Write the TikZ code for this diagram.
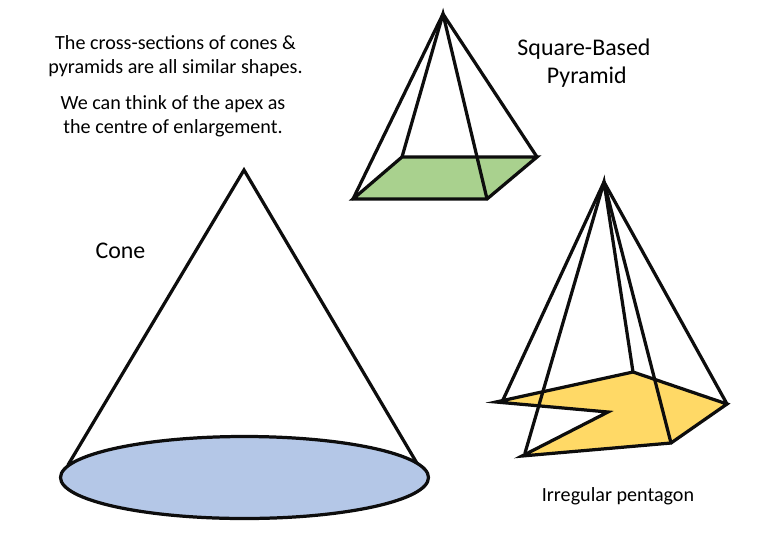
\documentclass[tikz,border=0pt]{standalone}
\usepackage{fontspec}
\setmainfont{Carlito}
\tikzset{
  edge line/.style={line width=2.3pt, line cap=round, line join=miter, black!95},
  small label/.style={align=center, font=\fontsize{14.3}{17}\selectfont, inner sep=0pt},
  large label/.style={align=center, font=\fontsize{17}{19.9}\selectfont, inner sep=0pt}
}
\definecolor{conefill}{HTML}{B4C7E7}
\definecolor{squarefill}{HTML}{A9D18E}
\definecolor{pentafill}{HTML}{FFD966}
\begin{document}
\begin{tikzpicture}[x=0.025cm, y=-0.025cm]
  \useasboundingbox (0,0) rectangle (780,540);

  % Drawing text
  \node [small label] (intro) at (175.5,56) {The cross-sections of cones \&\\pyramids are all similar shapes.};
  \node [small label] (apexnote) at (173,116) {We can think of the apex as\\the centre of enlargement.};
  \node [large label] (squarename) at (584,63) {Square-Based\\\hspace*{4pt}Pyramid};
  \node [large label] (conename) at (120.5,250.5) {Cone};
  \node [small label] (pentaname) at (618,496) {Irregular pentagon};

  % Drawing cone
  \coordinate (coneapex) at (244,170);
  \coordinate (coneleft) at (68,465);
  \coordinate (coneright) at (418,465);
  \draw [edge line] (coneleft) -- (coneapex) -- (coneright);
  \draw [edge line, fill=conefill] (244.5,477.5) ellipse (184 and 41);

  % Drawing square based pyramid
  \coordinate (sqapex) at (443,14);
  \coordinate (sqa) at (353,199);
  \coordinate (sqb) at (487,199);
  \coordinate (sqc) at (537,157);
  \coordinate (sqd) at (402,157);
  \draw [edge line, fill=squarefill] (sqa) -- (sqb) -- (sqc) -- (sqd) -- cycle;
  \draw [edge line] (sqa) -- (sqapex) -- (sqc);
  \draw [edge line] (sqd) -- (sqapex) -- (sqb);

  % Drawing pentagon based pyramid
  \coordinate (penapex) at (604,182);
  \coordinate (pena) at (496,402);
  \coordinate (penb) at (633,372);
  \coordinate (penc) at (727,404);
  \coordinate (pend) at (671,443);
  \coordinate (pene) at (522,456);
  \coordinate (penf) at (608,412);
  \draw [edge line, fill=pentafill] (pena) -- (penb) -- (penc) -- (pend) -- (pene) -- (penf) -- cycle;
  \draw [edge line] (502,402) -- (penapex) -- (penc);
  \draw [edge line] (525,453) -- (penapex) -- (penb);
  \draw [edge line] (penapex) -- (pend);
\end{tikzpicture}
\end{document}
